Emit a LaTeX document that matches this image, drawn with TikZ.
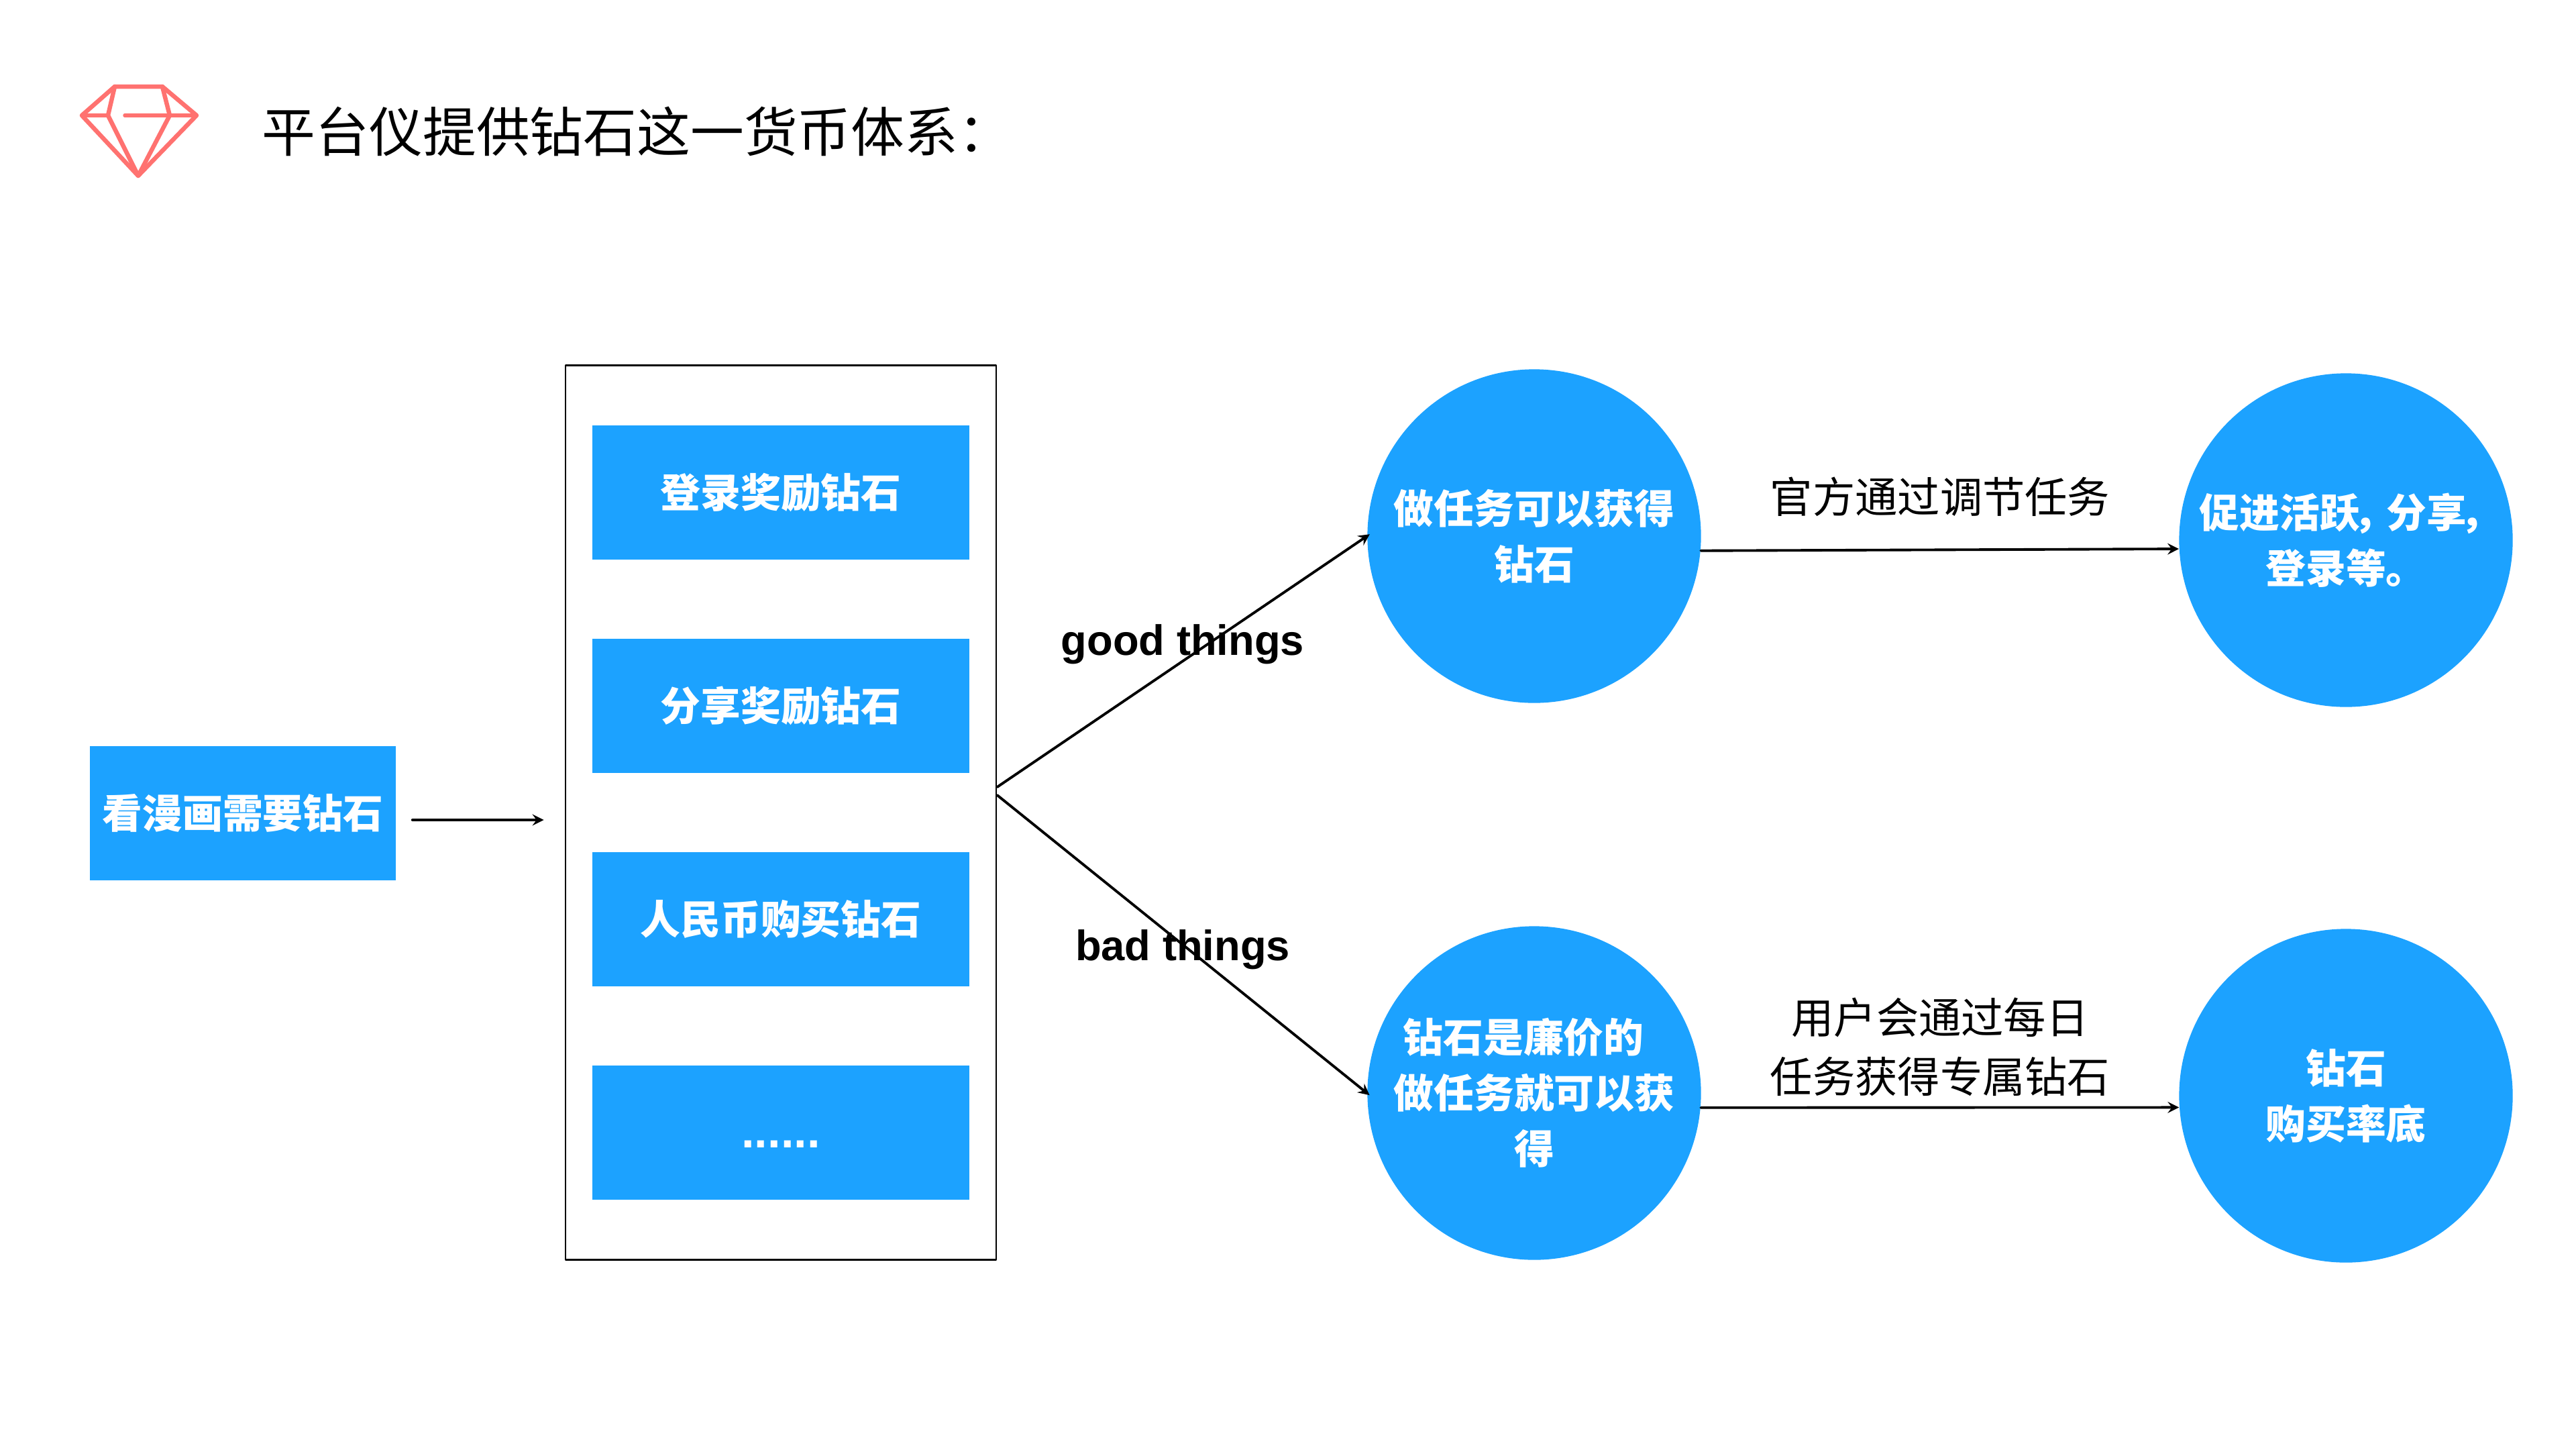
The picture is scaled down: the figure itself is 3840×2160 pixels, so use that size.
\documentclass[tikz,border=0pt]{standalone}
\usepackage{fontspec}
\setmainfont{Noto Sans CJK SC}
\newfontfamily\latinbold{Liberation Sans}
\definecolor{gemred}{HTML}{FF7270}
\definecolor{boxblue}{HTML}{1CA2FF}
\newcommand\sixdots{\raisebox{-.22cm}[0pt][0pt]{\fontsize{20}{24}\selectfont\latinbold\bfseries ......}}
\tikzset{
	bluebox/.style={fill=boxblue,text=white,font=\fontsize{17}{24}\selectfont\bfseries,inner sep=0pt,minimum height=1.99cm},
	bluecircle/.style={circle,fill=boxblue,text=white,font=\fontsize{17}{23.6}\selectfont\bfseries,align=center,inner sep=0pt,minimum size=4.97cm},
	note/.style={font=\fontsize{18}{25}\selectfont,align=center,inner sep=0pt},
	tag/.style={font=\fontsize{18}{22}\selectfont\latinbold\bfseries,inner sep=0pt}
}
\begin{document}
\begin{tikzpicture}[x=.01cm, y=-.01cm, line join=round, line cap=round, >=stealth]
	\useasboundingbox (0,0) rectangle (3840,2160);
	\draw[gemred,line width=.065cm](171,129)--(242,129)--(293,172)--(206,262)--(122,172)--cycle;
	\draw[gemred,line width=.065cm](171,129)--(161,172)--(206,262)--(253,172)--(242,129);
	\draw[gemred,line width=.055cm](122,172)--(161,172);
	\draw[gemred,line width=.055cm](186,172)--(293,172);
	\node[anchor=west,font=\fontsize{22.7}{26}\selectfont,inner sep=0pt] (title) at (390,196) {平台仪提供钻石这一货币体系：};
	\node[bluebox,minimum width=4.56cm,minimum height=2cm] (intro) at (362,1212) {看漫画需要钻石};
	\node[draw,line width=.7pt,minimum width=6.42cm,minimum height=13.32cm,inner sep=0pt] (panel) at (1164,1211) {};
	\foreach \y/\name/\txt in {734/boxa/登录奖励钻石,1052/boxb/分享奖励钻石,1370/boxc/人民币购买钻石,1688/boxd/\sixdots}
		\node[bluebox,minimum width=5.61cm] (\name) at (1164,\y) {\txt};
	\node[bluecircle] (gooda) at (2287,799) {做任务可以获得\\钻石};
	\node[bluecircle] (goodb) at (3497,805) {促进活跃\hspace{-.1cm}，\hspace{-.1cm}分享\hspace{-.1cm}，\hspace*{-.12cm}\\登录等。};
	\node[bluecircle] (bada) at (2287,1629) {钻石是廉价的\hspace*{.32cm}\\做任务就可以获\\得};
	\node[bluecircle] (badb) at (3497,1633) {钻石\\购买率底};
	\draw[->,line width=1.1pt,shorten <=.24cm,shorten >=.31cm]([yshift=-.1cm]intro.east)--([yshift=-.11cm]panel.west);
	\draw[->,line width=1.1pt,shorten >=-.05cm]([yshift=.38cm]panel.east)--(gooda.180);
	\draw[->,line width=1.1pt,shorten >=-.05cm]([yshift=.26cm]panel.east)--(bada.180);
	\draw[->,line width=1.1pt](gooda.-5.6)--(goodb.183.8);
	\draw[->,line width=1.1pt](bada.-5.2)--(badb.184.3);
	\node[tag] (goodtag) at (1763,960) {good things};
	\node[tag] (badtag) at (1763,1415) {bad things};
	\node[note] (goodnote) at (2892,740) {官方通过调节任务};
	\node[note] (badnote) at (2892,1560) {用户会通过每日\\任务获得专属钻石};
\end{tikzpicture}
\end{document}
